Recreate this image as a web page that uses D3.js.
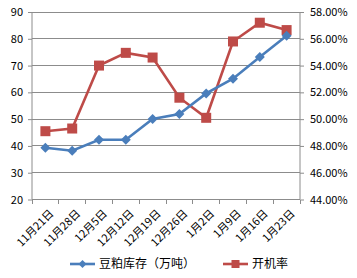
<!DOCTYPE html>
<html><head><meta charset="utf-8">
<script src="https://cdn.jsdelivr.net/npm/d3@7"></script>
<style>body{margin:0;background:#fff}svg{display:block}text{font-family:"Noto Sans CJK SC","DejaVu Sans",sans-serif}</style>
</head><body><svg id="c" width="357" height="278"></svg>
<script>
const categories=["11月21日","11月28日","12月5日","12月12日","12月19日","12月26日","1月2日","1月9日","1月16日","1月23日"];
const stock=[39.3,38.2,42.3,42.3,50.1,51.9,59.6,65.1,73.2,81.1];
const rate=[49.1,49.3,54.0,54.95,54.6,51.6,50.1,55.8,57.2,56.65];
const leftTicks=[20,30,40,50,60,70,80,90];
const rightTicks=[44,46,48,50,52,54,56,58];
const seriesNames=["豆粕库存（万吨）","开机率"];
const colors=["#4A7EBB","#BE4B48"];

const svg=d3.select("#c");
const L=32,R=300,T=12,B=199.5;
const x=d3.scaleBand().domain(categories).range([L,R]);
const yl=d3.scaleLinear().domain([20,90]).range([B,T]);
const yr=d3.scaleLinear().domain([44,58]).range([B,T]);

// gridlines
svg.append("g").selectAll("line").data(leftTicks.slice(1)).join("line")
 .attr("x1",L).attr("x2",R).attr("y1",d=>yl(d)).attr("y2",d=>yl(d))
 .attr("stroke","#8c8c8c").attr("stroke-width",1).attr("shape-rendering","crispEdges");

const axL=svg.append("g").attr("transform",`translate(${L},0)`).call(d3.axisLeft(yl).tickValues(leftTicks).tickSize(4).tickPadding(5));
const axR=svg.append("g").attr("transform",`translate(${R},0)`).call(d3.axisRight(yr).tickValues(rightTicks).tickSize(4).tickPadding(6).tickFormat(d=>d.toFixed(2)+"%"));
const axB=svg.append("g").attr("transform",`translate(0,${B})`);
axB.append("line").attr("x1",L).attr("x2",R).attr("y1",0).attr("y2",0);
axB.selectAll("line.t").data(d3.range(categories.length+1)).join("line").attr("class","t")
 .attr("x1",i=>L+i*x.step()).attr("x2",i=>L+i*x.step()).attr("y1",0).attr("y2",4);
axB.selectAll("line").attr("stroke","#8c8c8c").attr("shape-rendering","crispEdges");
axB.selectAll("text").data(categories).join("text")
 .attr("transform",d=>`translate(${x(d)+x.bandwidth()/2+3},${9}) rotate(-45)`)
 .attr("text-anchor","end").attr("dy","0.75em").attr("font-size",11).attr("fill","#000").text(d=>d);
[axL,axR].forEach(a=>{a.select(".domain").attr("stroke","#8c8c8c");a.selectAll(".tick line").attr("stroke","#8c8c8c");
 a.selectAll("text").attr("font-size",11).attr("fill","#000").attr("font-family","'DejaVu Sans',sans-serif");});
axL.select(".domain").attr("d",`M0,${B}V${T}`);
axR.select(".domain").attr("d",`M0,${B}V${T}`);

const cx=d=>x(d)+x.bandwidth()/2;
const line1=d3.line().x((d,i)=>cx(categories[i])).y(d=>yl(d));
const line2=d3.line().x((d,i)=>cx(categories[i])).y(d=>yr(d));
svg.append("path").attr("d",line2(rate)).attr("fill","none").attr("stroke",colors[1]).attr("stroke-width",2.6);
svg.selectAll("rect.m").data(rate).join("rect").attr("class","m")
 .attr("x",(d,i)=>cx(categories[i])-5).attr("y",d=>yr(d)-5).attr("width",10).attr("height",10).attr("fill",colors[1]);
svg.append("path").attr("d",line1(stock)).attr("fill","none").attr("stroke",colors[0]).attr("stroke-width",2.6);
svg.selectAll("path.m").data(stock).join("path").attr("class","m")
 .attr("transform",(d,i)=>`translate(${cx(categories[i])},${yl(d)})`)
 .attr("d","M0,-5L5,0L0,5L-5,0Z").attr("fill",colors[0]);

// legend
const ly=264;
const lg=svg.append("g");
lg.append("line").attr("x1",70).attr("x2",95).attr("y1",ly).attr("y2",ly).attr("stroke",colors[0]).attr("stroke-width",2.6);
lg.append("path").attr("transform",`translate(82.5,${ly})`).attr("d","M0,-4L4,0L0,4L-4,0Z").attr("fill",colors[0]);
lg.append("text").attr("x",99).attr("y",ly).attr("dy","0.36em").attr("font-size",12).text(seriesNames[0]);
lg.append("line").attr("x1",223).attr("x2",248).attr("y1",ly).attr("y2",ly).attr("stroke",colors[1]).attr("stroke-width",2.6);
lg.append("rect").attr("x",231.5).attr("y",ly-4).attr("width",8).attr("height",8).attr("fill",colors[1]);
lg.append("text").attr("x",252).attr("y",ly).attr("dy","0.36em").attr("font-size",12).text(seriesNames[1]);
</script></body></html>
